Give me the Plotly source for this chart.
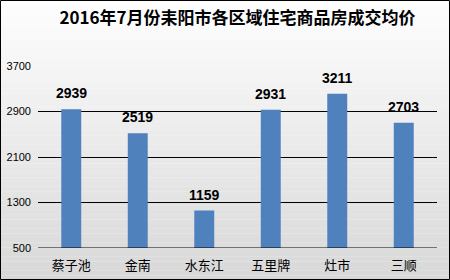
import plotly.graph_objects as go

categories = ["蔡子池", "金南", "水东江", "五里牌", "灶市", "三顺"]
values = [2939, 2519, 1159, 2931, 3211, 2703]
tick_vals = [500, 1300, 2100, 2900, 3700]
title = "2016年7月份耒阳市各区域住宅商品房成交均价"

W, H = 450, 280
L, R, T, B = 38, 13, 66, 32
pw, ph = W - L - R, H - T - B
x0p, x1p = -L / pw, 1 + R / pw
y0p, y1p = -B / ph, 1 + T / ph

fig = go.Figure(go.Bar(
    x=categories, y=values, width=0.3,
    marker=dict(color="#4f81bd", line=dict(width=0)),
))

for c, v in zip(categories, values):
    fig.add_annotation(x=c, y=v, text=f"<b>{v}</b>", showarrow=False,
                       yanchor="bottom", yshift=6,
                       font=dict(family="Liberation Sans, Arial", size=14, color="#000000"))

shapes = []
n = 60
for i in range(n):
    g = int(round(254 - 38 * (i + 0.5) / n))
    ya = y1p - (y1p - y0p) * i / n
    yb = y1p - (y1p - y0p) * (i + 1) / n
    shapes.append(dict(type="rect", xref="paper", yref="paper", x0=x0p, x1=x1p,
                       y0=yb, y1=ya + 0.001, fillcolor=f"rgb({g},{g},{g})",
                       line=dict(width=0), layer="below"))
shapes.append(dict(type="rect", xref="paper", yref="paper",
                   x0=x0p + 0.5 / pw, x1=x1p - 0.5 / pw,
                   y0=y0p + 0.5 / ph, y1=y1p - 0.5 / ph,
                   line=dict(color="#000000", width=1), fillcolor="rgba(0,0,0,0)", layer="above"))

fig.update_layout(
    width=W, height=H, margin=dict(l=L, r=R, t=T, b=B),
    paper_bgcolor="#ffffff", plot_bgcolor="rgba(0,0,0,0)",
    showlegend=False,
    title=dict(text=f"<b>{title}</b>", x=0.5, xref="paper", xanchor="center",
               y=1 - 18 / H, yref="container", yanchor="middle",
               font=dict(family="Noto Sans CJK SC", size=17, color="#000000")),
    shapes=shapes,
    xaxis=dict(showgrid=False, showline=False, ticks="", ticklabelstandoff=8,
               automargin=False,
               tickfont=dict(family="Noto Sans CJK SC", size=13, color="#000000")),
    yaxis=dict(range=[500, 3700], tickvals=tick_vals, showgrid=True,
               gridcolor="#000000", gridwidth=1, zeroline=False, showline=False,
               ticks="", ticklabelstandoff=6, automargin=False,
               tickfont=dict(family="Liberation Sans, Arial", size=11, color="#000000")),
)
fig.add_hline(y=500, line=dict(color="#000000", width=1))
fig.write_html("out.html")
